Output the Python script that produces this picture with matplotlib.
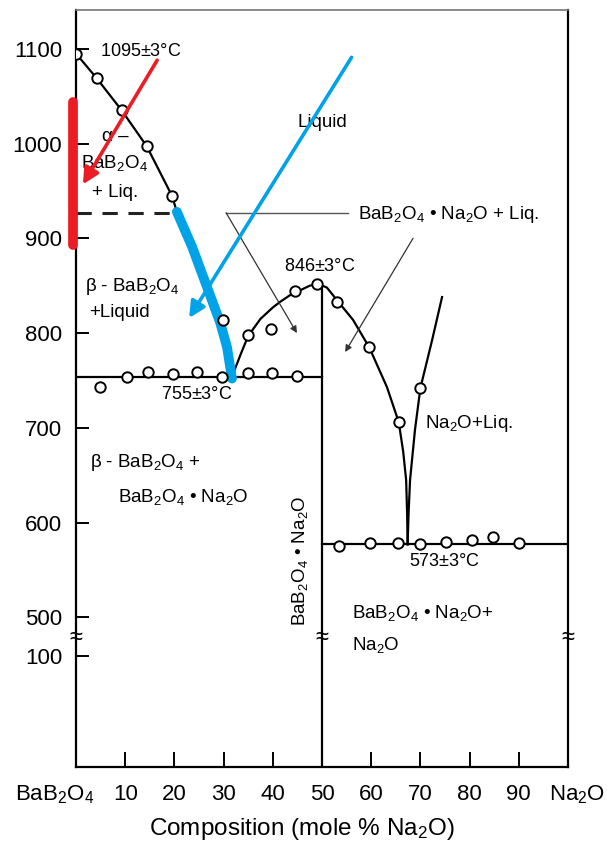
import numpy as np
import matplotlib
matplotlib.use("Agg")
import matplotlib.pyplot as plt
from matplotlib.transforms import ScaledTranslation

plt.rcParams['font.family'] = ['Liberation Sans', 'DejaVu Sans']
plt.rcParams['mathtext.fontset'] = 'custom'
plt.rcParams['mathtext.rm'] = 'Liberation Sans'
plt.rcParams['mathtext.it'] = 'Liberation Sans:italic'
plt.rcParams['mathtext.bf'] = 'Liberation Sans:bold'

# ---- data (x = mole % Na2O, y = temperature in C) ----
liq_left_x = [0, 4.2, 9.3, 14.4, 19.5, 20.5, 23.6, 26.6, 29.3, 30.7, 31.7]
liq_left_t = [1095, 1069, 1035, 997, 945, 928, 891, 849, 811, 785, 754]

comp_liq_x = [31.7, 33.5, 35, 37.5, 40, 41.5, 43.5, 45.5, 47.5, 49.2, 51, 53, 56.3,
              59.6, 63.2, 65.6, 66.5, 67.1, 67.3, 67.4]
comp_liq_t = [754, 778, 797, 815, 827, 833, 840, 845, 850, 852, 848, 835, 814,
              785, 743, 706, 675, 645, 610, 577]

na2o_liq_x = [67.4, 67.6, 67.9, 68.9, 70, 72.4, 74.4]
na2o_liq_t = [577, 610, 645, 698, 742, 793, 838]

blue_x = [20.5, 23.6, 26.6, 29.3, 30.7, 31.7]
blue_t = [928, 891, 849, 811, 785, 752]

pts_x = [0, 4.2, 9.3, 14.4, 19.5, 29.9,
         4.9, 10.4, 14.6, 19.7, 24.6, 29.7, 35, 39.8, 44.9,
         35, 39.6, 44.5, 49, 53, 59.6, 65.6, 70,
         53.5, 59.7, 65.4, 69.9, 75.2, 80.5, 84.8, 90.1]
pts_t = [1095, 1069, 1035, 997, 945, 814,
         743, 754, 759, 757, 759, 754, 758, 758, 755,
         798, 804, 844, 852, 833, 785, 706, 742,
         575, 578, 578, 577, 579, 582, 585, 578]

eut1_t = 754      # 755 +/- 3
eut2_t = 577      # 573 +/- 3
trans_t = 927     # alpha/beta transition
peak_t = 852

y_ticks = [100, 500, 600, 700, 800, 900, 1000, 1100]
x_ticks = [0, 10, 20, 30, 40, 50, 60, 70, 80, 90, 100]
x_labels = ['BaB$_2$O$_4$', '10', '20', '30', '40', '50', '60', '70', '80', '90',
            'Na$_2$O']

red = '#ec1c24'
blue = '#00a2e8'


# broken temperature axis: 0-100 below the break, 500+ above it
def fwd(t):
    t = np.asarray(t, float)
    return np.where(t >= 500, t,
                    np.where(t >= 100, 500 - (500 - t) * 41 / 400,
                             459 - (100 - t) * 1.17))


def inv(u):
    u = np.asarray(u, float)
    return np.where(u >= 500, u,
                    np.where(u >= 459, 500 - (500 - u) * 400 / 41,
                             100 - (459 - u) / 1.17))


fig = plt.figure(figsize=(6.07, 8.41), dpi=100)
ax = fig.add_axes([76 / 607, 1 - 767 / 841, 492 / 607, 757 / 841])
ax.set_yscale('function', functions=(fwd, inv))
ax.set_xlim(0, 100)
ax.set_ylim(0, 1141)

for s in ['left', 'bottom', 'right']:
    ax.spines[s].set_linewidth(1.6)
ax.spines['top'].set_linewidth(1.2)
ax.spines['top'].set_color('#777777')

ax.set_yticks(y_ticks)
ax.set_yticklabels([str(v) for v in y_ticks])
ax.set_xticks(x_ticks)
ax.set_xticklabels(x_labels)
ax.tick_params(axis='y', direction='in', length=9, width=1.4, labelsize=16, pad=10)
ax.tick_params(axis='x', direction='in', length=11, width=1.4, labelsize=16, pad=12)
ax.set_xlabel('Composition (mole % Na$_2$O)', fontsize=17.5, va='center')
ax.xaxis.set_label_coords((302 - 76) / 492, (767 - 829) / 757)

# end labels sit off-centre from their ticks
xl = ax.get_xticklabels()
xl[0].set_transform(xl[0].get_transform() + ScaledTranslation(-0.21, 0, fig.dpi_scale_trans))
xl[-1].set_transform(xl[-1].get_transform() + ScaledTranslation(0.09, 0, fig.dpi_scale_trans))

lw = 1.6
# phase boundaries
ax.plot(liq_left_x, liq_left_t, color='black', lw=lw)
ax.plot(comp_liq_x, comp_liq_t, color='black', lw=lw)
ax.plot(na2o_liq_x, na2o_liq_t, color='black', lw=lw)
ax.plot([0, 50], [eut1_t, eut1_t], color='black', lw=lw)
ax.plot([50, 100], [eut2_t, eut2_t], color='black', lw=lw)
ax.plot([50, 50], [0, peak_t], color='black', lw=lw)
ax.plot([0, 20.5], [trans_t, trans_t], color='#222222', lw=2.2,
        linestyle=(0, (5, 3.5)))

# highlighted region
ax.plot(blue_x, blue_t, color=blue, lw=7, solid_capstyle='round', zorder=4)

ax.plot(pts_x, pts_t, linestyle='none', marker='o', ms=7.5, mfc='white',
        mec='black', mew=1.4, zorder=5)

# break marks
for bx in [0, 50, 100]:
    ax.text(bx, 290, '≈', fontsize=17, ha='center', va='center', zorder=6,
            clip_on=False)

# red bar and arrows
ax.plot([-0.6, -0.6], [893, 1044], color=red, lw=7, clip_on=False,
        solid_capstyle='round', zorder=6)
ax.annotate('', xy=(1.4, 957), xytext=(16.5, 1088),
            arrowprops=dict(arrowstyle='-|>', color=red, lw=2.6,
                            mutation_scale=24, shrinkA=0, shrinkB=0), zorder=6)
ax.annotate('', xy=(23.0, 816), xytext=(56.0, 1091),
            arrowprops=dict(arrowstyle='-|>', color=blue, lw=2.6,
                            mutation_scale=24, shrinkA=0, shrinkB=0), zorder=6)

# leader for compound + liquid
ax.plot([30.5, 55.3], [trans_t, trans_t], color='#555555', lw=1.0)
ax.annotate('', xy=(44.9, 800), xytext=(30.5, trans_t),
            arrowprops=dict(arrowstyle='-|>', color='#333333', lw=0.9,
                            mutation_scale=10, shrinkA=0, shrinkB=0))
ax.annotate('', xy=(54.7, 780), xytext=(68.5, 900),
            arrowprops=dict(arrowstyle='-|>', color='#333333', lw=0.9,
                            mutation_scale=10, shrinkA=0, shrinkB=0))

fs = 13.5
ax.text(4.9, 1097, '1095$\\pm$3°C', fontsize=13, ha='left', va='center')
ax.text(7.9, 1007, 'α –', fontsize=fs, ha='center', va='center')
ax.text(7.9, 979, 'BaB$_2$O$_4$', fontsize=fs, ha='center', va='center')
ax.text(7.9, 948, '+ Liq.', fontsize=fs, ha='center', va='center')
ax.text(50.0, 1022, 'Liquid', fontsize=fs, ha='center', va='center')
ax.text(57.3, 925, 'BaB$_2$O$_4$ • Na$_2$O + Liq.', fontsize=fs, ha='left', va='center')
ax.text(49.6, 870, '846$\\pm$3°C', fontsize=13, ha='center', va='center')
ax.text(1.9, 849, 'β - BaB$_2$O$_4$', fontsize=fs, ha='left', va='center')
ax.text(8.8, 822, '+Liquid', fontsize=fs, ha='center', va='center')
ax.text(24.6, 735, '755$\\pm$3°C', fontsize=13, ha='center', va='center')
ax.text(70.9, 705, 'Na$_2$O+Liq.', fontsize=fs, ha='left', va='center')
ax.text(2.9, 663, 'β - BaB$_2$O$_4$ +', fontsize=fs, ha='left', va='center')
ax.text(8.5, 627, 'BaB$_2$O$_4$ • Na$_2$O', fontsize=fs, ha='left', va='center')
ax.text(45.5, 560, 'BaB$_2$O$_4$ • Na$_2$O', fontsize=fs, ha='center', va='center',
        rotation=90)
ax.text(74.8, 559, '573$\\pm$3°C', fontsize=13, ha='center', va='center')
ax.text(56.1, 505, 'BaB$_2$O$_4$ • Na$_2$O+', fontsize=fs, ha='left', va='center')
ax.text(56.1, 217, 'Na$_2$O', fontsize=fs, ha='left', va='center')

fig.savefig('out.png', dpi=100)
